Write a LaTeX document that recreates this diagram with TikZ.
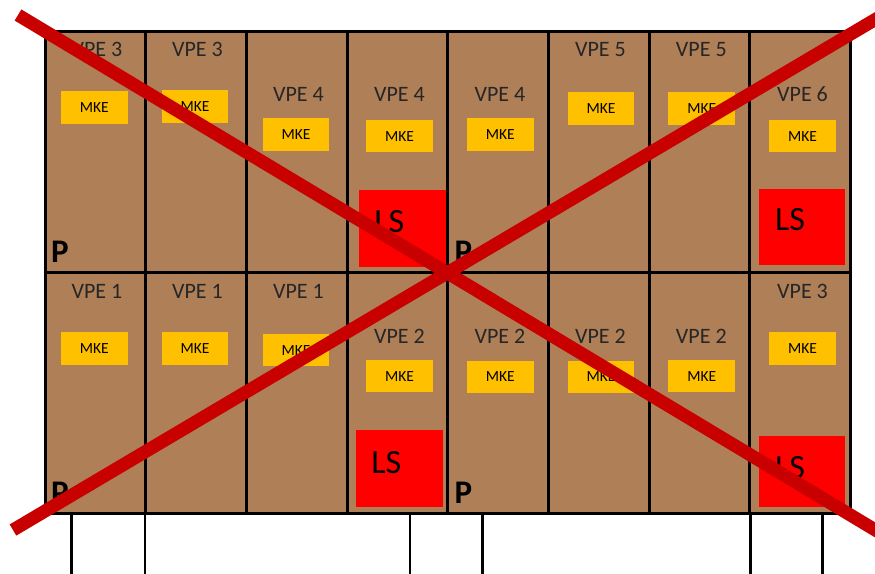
\documentclass[tikz,border=0pt]{standalone}
\usepackage{fontspec}
\setmainfont{Carlito}
\usetikzlibrary{calc}
\definecolor{cellbrown}{RGB}{175,127,88}
\definecolor{mkegold}{RGB}{255,192,0}
\definecolor{lsred}{RGB}{255,0,0}
\definecolor{crossred}{RGB}{200,0,0}
\definecolor{vpetext}{RGB}{38,38,38}
\begin{document}
\begin{tikzpicture}[x=1pt,y=-1pt,
  cell/.style={draw=black, line width=3pt, fill=cellbrown, minimum width=100.7pt, minimum height=241pt, inner sep=0pt, outer sep=0pt, anchor=north west},
  leg/.style={draw=black, line width=2.5pt},
  vpe/.style={anchor=base, inner sep=0pt, text=vpetext, font=\fontsize{22}{22}\selectfont},
  mke/.style={fill=mkegold, minimum width=66.5pt, minimum height=32.5pt, inner sep=0pt, text=black, font=\fontsize{15.5}{15.5}\selectfont},
  lsbox/.style={fill=lsred, minimum width=86.7pt, minimum height=76.7pt, inner sep=0pt, anchor=north west},
  lstext/.style={anchor=base west, inner sep=0pt, text=black, font=\fontsize{34}{34}\selectfont},
  ptext/.style={anchor=base west, inner sep=0pt, text=black, font=\fontsize{33}{33}\selectfont\bfseries},
  cross/.style={draw=crossred, line width=13pt, line cap=butt}]
\useasboundingbox (0,0) rectangle (875,573);
\clip (0,0) rectangle (875,573);
\fill[white] (0,0) rectangle (875,573);

% legs below the grid
\coordinate (g1t) at (71.7,514.3);  \coordinate (g1b) at (71.7,575);
\coordinate (g2t) at (145,514.3);   \coordinate (g2b) at (145,575);
\coordinate (g3t) at (410,514.3);   \coordinate (g3b) at (410,575);
\coordinate (g4t) at (482.3,514.3); \coordinate (g4b) at (482.3,575);
\coordinate (g5t) at (750.7,514.3); \coordinate (g5b) at (750.7,575);
\coordinate (g6t) at (822.7,514.3); \coordinate (g6b) at (822.7,575);
\foreach \k in {1,...,6} { \draw[leg] (g\k t) -- (g\k b); }

% cells
\foreach \i in {0,...,7} {
  \foreach \j in {0,1} {
    \node[cell] (c\i\j) at ({45+100.7*\i},{31.5+241*\j}) {};
  }
}

% MKE boxes upper row
\node[mke] (m10) at (94.3,107.5) {MKE};
\node[mke] (m20) at (195,106.7) {MKE};
\node[mke] (m30) at (296,134.5) {MKE};
\node[mke] (m40) at (399.5,136.2) {MKE};
\node[mke] (m50) at (500.3,134.5) {MKE};
\node[mke] (m60) at (601,108.3) {MKE};
\node[mke] (m70) at (701.7,108.3) {MKE};
\node[mke] (m80) at (802.5,136.2) {MKE};
% MKE boxes lower row
\node[mke] (m11) at (94.3,348.5) {MKE};
\node[mke] (m21) at (195,348.5) {MKE};
\node[mke] (m31) at (296,350.2) {MKE};
\node[mke] (m41) at (399.5,376.2) {MKE};
\node[mke] (m51) at (500.3,376.8) {MKE};
\node[mke] (m61) at (601,376.8) {MKE};
\node[mke] (m71) at (701.7,376.2) {MKE};
\node[mke] (m81) at (802.5,348.5) {MKE};

% VPE labels upper row
\node[vpe] (v10) at (97,56.7) {VPE 3};
\node[vpe] (v20) at (197.5,56.7) {VPE 3};
\node[vpe] (v30) at (298.5,101.7) {VPE 4};
\node[vpe] (v40) at (399.5,101.7) {VPE 4};
\node[vpe] (v50) at (500,101.7) {VPE 4};
\node[vpe] (v60) at (600.5,56.7) {VPE 5};
\node[vpe] (v70) at (701.3,56.7) {VPE 5};
\node[vpe] (v80) at (802.5,101.7) {VPE 6};
% VPE labels lower row
\node[vpe] (v11) at (97,298.3) {VPE 1};
\node[vpe] (v21) at (197.5,298.3) {VPE 1};
\node[vpe] (v31) at (298.5,298.3) {VPE 1};
\node[vpe] (v41) at (399.5,343.3) {VPE 2};
\node[vpe] (v51) at (500,343.3) {VPE 2};
\node[vpe] (v61) at (600.5,343.3) {VPE 2};
\node[vpe] (v71) at (701.3,343.3) {VPE 2};
\node[vpe] (v81) at (802.5,298.3) {VPE 3};

% LS boxes
\node[lsbox] (s40) at (358.7,190) {};
\node[lsbox] (s80) at (758.3,188.3) {};
\node[lsbox] (s41) at (355.7,430) {};
\node[lsbox, minimum height=70.7pt] (s81) at (758.3,436) {};
\node[lstext] (t40) at ($(s40.north west)+(15.5,42.5)$) {LS};
\node[lstext] (t80) at ($(s80.north west)+(16.5,42.5)$) {LS};
\node[lstext] (t41) at ($(s41.north west)+(15.5,43)$) {LS};
\node[lstext] (t81) at ($(s81.north west)+(16.5,42)$) {LS};

% P labels
\node[ptext] (p10) at (51,262.7) {P};
\node[ptext] (p50) at (454.5,262.7) {P};
\node[ptext] (p11) at (51,503.3) {P};
\node[ptext] (p51) at (454.5,503.3) {P};

% red cross
\coordinate (xa1) at (18,15);
\coordinate (xa2) at (882,534);
\coordinate (xb1) at (13,530);
\coordinate (xb2) at (882,15.5);
\draw[cross] (xa1) -- (xa2);
\draw[cross] (xb1) -- (xb2);
\end{tikzpicture}
\end{document}
